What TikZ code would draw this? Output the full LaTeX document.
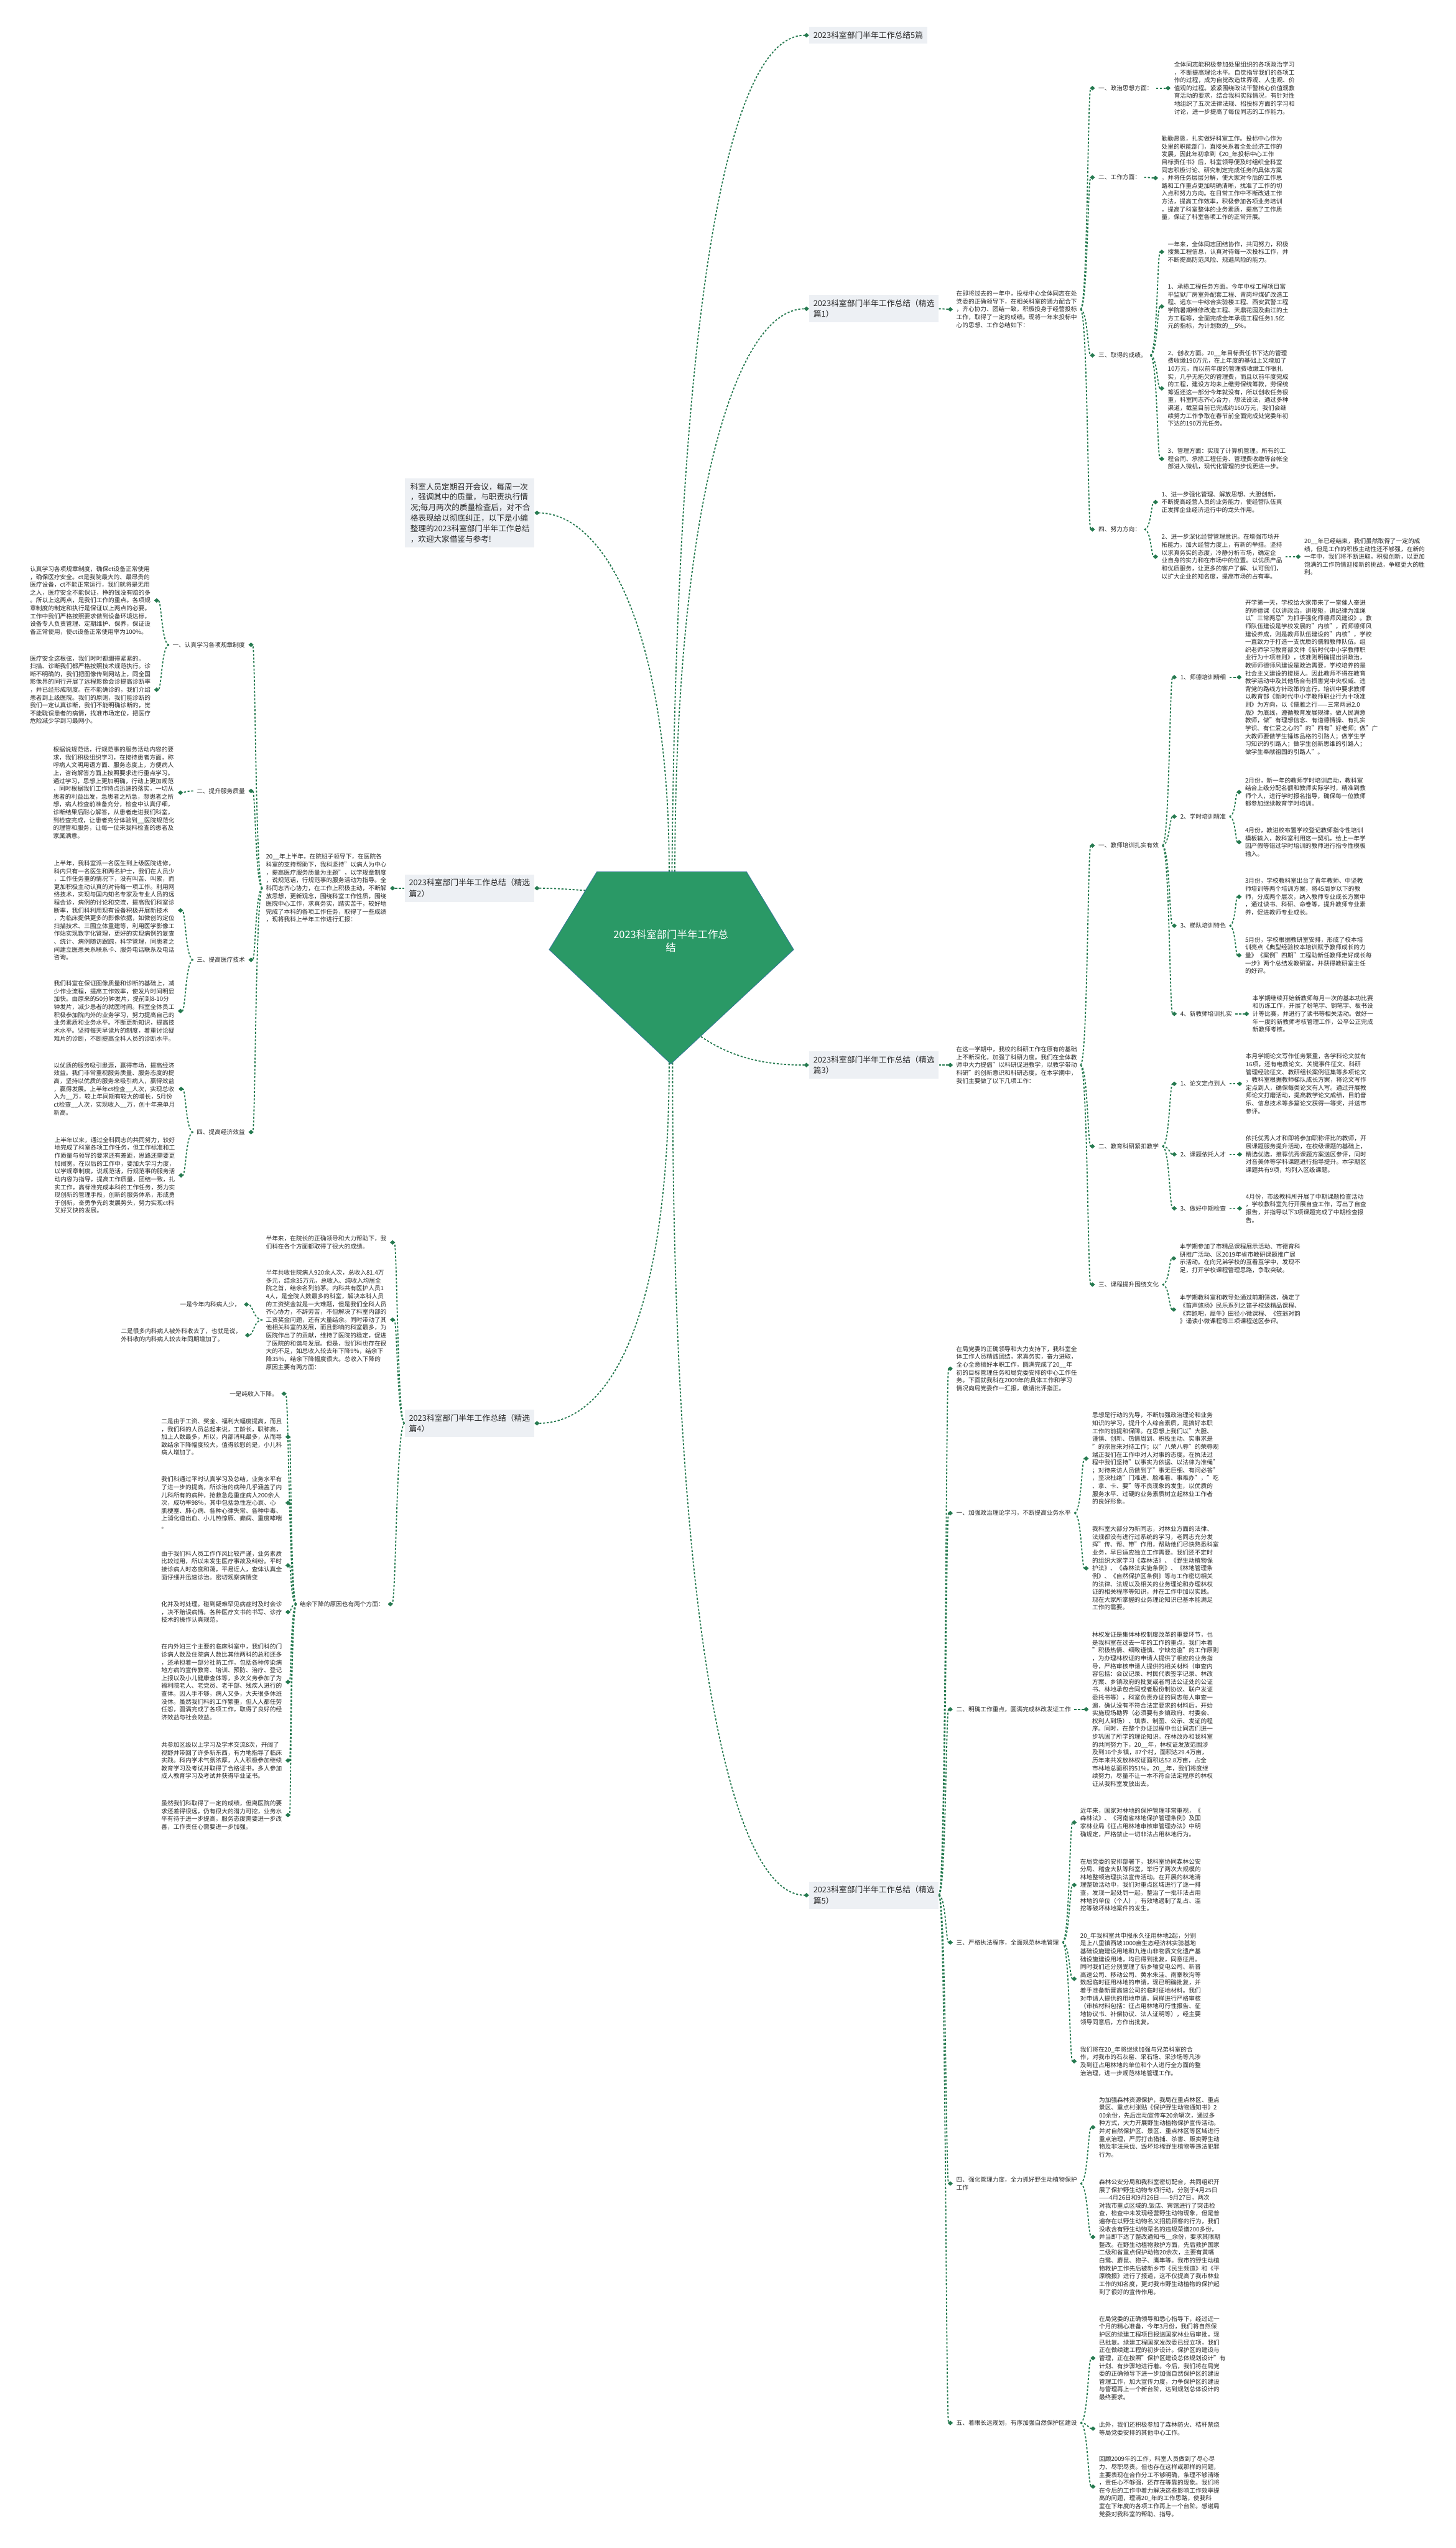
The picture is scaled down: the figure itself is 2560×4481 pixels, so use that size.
\documentclass[tikz,border=0pt]{standalone}
\usepackage{fontspec}
\setmainfont{Noto Sans CJK SC}
\usetikzlibrary{arrows.meta,calc}
\definecolor{lnk}{RGB}{38,122,80}
\definecolor{rootfill}{RGB}{42,153,102}
\definecolor{rootdraw}{RGB}{52,120,150}
\definecolor{boxfill}{RGB}{237,240,244}
\definecolor{txt}{RGB}{40,40,40}
\newcommand\leaffont{\fontsize{10.6pt}{13.8pt}\selectfont}
\newcommand\boxfont{\fontsize{14pt}{19pt}\selectfont}
\newcommand\sumfont{\fontsize{13.8pt}{18.4pt}\selectfont}
\newcommand\rootfont{\fontsize{18pt}{23pt}\selectfont}
\tikzset{
  leaf/.style={font=\leaffont, text=txt, align=left, inner xsep=6pt, inner ysep=2pt},
  pbox/.style={fill=boxfill, text=txt, font=\boxfont, align=left, inner xsep=7.5pt, inner ysep=8pt},
  sumbox/.style={fill=boxfill, text=txt, font=\sumfont, align=left, inner xsep=10pt, inner ysep=8pt},
  conn/.style={draw=lnk, line width=2pt, dash pattern=on 3.5pt off 3pt, -{Turned Square[length=9pt,width=8pt]}},
}
\newcommand\lkR[2]{\draw[conn] let \p1=(#1.east),\p2=(#2.west),\p3=($(\p1)!0.5!(\p2)$) in (\p1) .. controls (\x3,\y1) and (\x3,\y2) .. (\p2);}
\newcommand\lkL[2]{\draw[conn] let \p1=(#1.west),\p2=(#2.east),\p3=($(\p1)!0.5!(\p2)$) in (\p1) .. controls (\x3,\y1) and (\x3,\y2) .. (\p2);}
\begin{document}
\begin{tikzpicture}[x=1pt,y=-1pt]
\fill[white] (0,0) rectangle (2560,4481);
\path[use as bounding box] (0,0) rectangle (2560,4481);

% ---------- root anchors ----------
\coordinate (p5) at (1182,1533);
\coordinate (p1) at (1187,1533);
\coordinate (ps) at (1177,1533);
\coordinate (p2) at (1030,1566);
\coordinate (p3) at (1233,1823);
\coordinate (p4) at (1177,1869);
\coordinate (p6) at (1183,1869);

% ---------- 篇1 ----------
\node[pbox,anchor=west] (T5) at (1423,62) {2023科室部门半年工作总结5篇};
\node[pbox,anchor=west,text width=213pt] (B1) at (1423,543) {2023科室部门半年工作总结（精选\\篇1）};
\node[leaf,anchor=west] (I1) at (1676,544) {在即将过去的一年中，投标中心全体同志在处\\党委的正确领导下，在相关科室的通力配合下\\，齐心协力、团结一致，积极投身于经营投标\\工作，取得了一定的成绩。现将一年来投标中\\心的思想、工作总结如下：};
\node[leaf,anchor=west] (L1a) at (1926,155) {一、政治思想方面：};
\node[leaf,anchor=west] (A1) at (2059,155) {全体同志能积极参加处里组织的各项政治学习\\，不断提高理论水平。自觉指导我们的各项工\\作的过程，成为自觉改造世界观、人生观、价\\值观的过程。紧紧围绕政法干警核心价值观教\\育活动的要求，结合我科实际情况，有针对性\\地组织了五次法律法规、招投标方面的学习和\\讨论，进一步提高了每位同志的工作能力。};
\node[leaf,anchor=west] (L1b) at (1926,312) {二、工作方面：};
\node[leaf,anchor=west] (A2) at (2037,313) {勤勤恳恳，扎实做好科室工作。投标中心作为\\处里的职能部门，直接关系着全处经济工作的\\发展，因此年初拿到《20\_年投标中心工作\\目标责任书》后，科室领导便及时组织全科室\\同志积极讨论、研究制定完成任务的具体方案\\，并将任务层层分解，使大家对今后的工作思\\路和工作重点更加明确清晰，找准了工作的切\\入点和努力方向。在日常工作中不断改进工作\\方法，提高工作效率，积极参加各项业务培训\\，提高了科室整体的业务素质，提高了工作质\\量，保证了科室各项工作的正常开展。};
\node[leaf,anchor=west] (L1c) at (1926,625) {三、取得的成绩。};
\node[leaf,anchor=west] (A3) at (2048,443) {一年来，全体同志团结协作，共同努力，积极\\搜集工程信息，认真对待每一次投标工作，并\\不断提高防范风险、规避风险的能力。};
\node[leaf,anchor=west] (A4) at (2048,539) {1、承揽工程任务方面。今年中标工程项目富\\平监狱厂房室外配套工程、青岗坪煤矿改造工\\程、远东一中综合实验楼工程、西安武警工程\\学院暑期维修改造工程、天鼎花园及曲江的土\\方工程等，全面完成全年承揽工程任务1.5亿\\元的指标，为计划数的\_\_5\%。};
\node[leaf,anchor=west] (A5) at (2048,683) {2、创收方面。20\_\_年目标责任书下达的管理\\费收缴190万元，在上年度的基础上又增加了\\10万元，而以前年度的管理费收缴工作很扎\\实，几乎无拖欠的管理费，而且以前年度完成\\的工程，建设方均未上缴劳保统筹款，劳保统\\筹返还这一部分今年就没有，所以创收任务很\\重，科室同志齐心合力，想法设法，通过多种\\渠道，截至目前已完成约160万元，我们会继\\续努力工作争取在春节前全面完成处党委年初\\下达的190万元任务。};
\node[leaf,anchor=west] (A6) at (2048,807) {3、管理方面：实现了计算机管理。所有的工\\程合同、承揽工程任务、管理费收缴等台帐全\\部进入微机，现代化管理的步伐更进一步。};
\node[leaf,anchor=west] (L1d) at (1926,931) {四、努力方向：};
\node[leaf,anchor=west] (A7) at (2037,883) {1、进一步强化管理、解放思想、大胆创新，\\不断提高经营人员的业务能力，使经营队伍真\\正发挥企业经济运行中的龙头作用。};
\node[leaf,anchor=west] (A8) at (2037,979) {2、进一步深化经营管理意识。在增强市场开\\拓能力，加大经营力度上，有新的举措。坚持\\以求真务实的态度，冷静分析市场，确定企\\业自身的实力和在市场中的位置。以优质产品\\和优质服务，让更多的客户了解、认可我们，\\以扩大企业的知名度，提高市场的占有率。};
\node[leaf,anchor=west] (A9) at (2288,979) {20\_\_年已经结束，我们虽然取得了一定的成\\绩，但是工作的积极主动性还不够强，在新的\\一年中，我们将不断进取，积极创新，以更加\\饱满的工作热情迎接新的挑战，争取更大的胜\\利。};

\lkR{B1}{I1}
\lkR{I1}{L1a}\lkR{I1}{L1b}\lkR{I1}{L1c}\lkR{I1}{L1d}
\lkR{L1a}{A1}\lkR{L1b}{A2}
\lkR{L1c}{A3}\lkR{L1c}{A4}\lkR{L1c}{A5}\lkR{L1c}{A6}
\lkR{L1d}{A7}\lkR{L1d}{A8}\lkR{A8}{A9}

% ---------- 篇3 ----------
\node[pbox,anchor=west,text width=213pt] (B3) at (1423,1873) {2023科室部门半年工作总结（精选\\篇3）};
\node[leaf,anchor=west] (I3) at (1676,1873) {在这一学期中，我校的科研工作在原有的基础\\上不断深化，加强了科研力度。我们在全体教\\师中大力提倡"以科研促进教学，以教学带动\\科研"的创新意识和科研态度。在本学期中，\\我们主要做了以下几项工作：};
\node[leaf,anchor=west] (L3a) at (1926,1487) {一、教师培训扎实有效};
\node[leaf,anchor=west] (L3a1) at (2070,1191) {1、师德培训精细};
\node[leaf,anchor=west] (C1) at (2184,1191) {开学第一天，学校给大家带来了一堂催人奋进\\的师德课《以讲政治，讲规矩，讲纪律为准绳\\以"三常两忌"为抓手强化师德师风建设》。教\\师队伍建设是学校发展的"内核"，而师德师风\\建设养成，则是教师队伍建设的"内核"，学校\\一直致力于打造一支优质的儒雅教师队伍。组\\织老师学习教育部文件《新时代中小学教师职\\业行为十项准则》，该准则明确提出讲政治，\\教师师德师风建设是政治需要，学校培养的是\\社会主义建设的接班人。因此教师不得在教育\\教学活动中及其他场合有损害党中央权威、违\\背党的路线方针政策的言行。培训中要求教师\\以教育部《新时代中小学教师职业行为十项准\\则》为方向，以《儒雅之行——三常两忌2.0\\版》为底线，遵循教育发展规律，做人民满意\\教师，做"有理想信念、有道德情操、有扎实\\学识、有仁爱之心的"的"四有"好老师；做"广\\大教师要做学生锤炼品格的引路人；做学生学\\习知识的引路人；做学生创新思维的引路人；\\做学生奉献祖国的引路人"。};
\node[leaf,anchor=west] (L3a2) at (2070,1436) {2、学时培训精准};
\node[leaf,anchor=west] (C2) at (2184,1393) {2月份，新一年的教师学时培训启动，教科室\\结合上级分配名额和教师实际学时，精准到教\\师个人，进行学时报名指导，确保每一位教师\\都参加继续教育学时培训。};
\node[leaf,anchor=west] (C3) at (2184,1481) {4月份，教进校布置学校登记教师指令性培训\\模板输入，教科室利用这一契机，给上一年学\\因产假等错过学时培训的教师进行指令性模板\\输入。};
\node[leaf,anchor=west] (L3a3) at (2070,1628) {3、梯队培训特色};
\node[leaf,anchor=west] (C4) at (2184,1577) {3月份，学校教科室出台了青年教师、中坚教\\师培训等两个培训方案，将45周岁以下的教\\师，分成两个层次，纳入教师专业成长方案中\\，通过读书、科研、命卷等，提升教师专业素\\养，促进教师专业成长。};
\node[leaf,anchor=west] (C5) at (2184,1680) {5月份，学校根据教研室安排，形成了校本培\\训亮点《典型经验校本培训赋予教师成长的力\\量》《案例"四期"工程助新任教师走好成长每\\一步》两个总结发教研室，并获得教研室主任\\的好评。};
\node[leaf,anchor=west] (L3a4) at (2070,1783) {4、新教师培训扎实};
\node[leaf,anchor=west] (C6) at (2197,1783) {本学期继续开始新教师每月一次的基本功比赛\\和历练工作，开展了粉笔字、钢笔字、板书设\\计等比赛，并进行了读书等相关活动。做好一\\年一度的新教师考核管理工作，公平公正完成\\新教师考核。};
\node[leaf,anchor=west] (L3b) at (1926,2016) {二、教育科研紧扣教学};
\node[leaf,anchor=west] (L3b1) at (2070,1906) {1、论文定点到人};
\node[leaf,anchor=west] (C7) at (2185,1906) {本月学期论文写作任务繁重，各学科论文就有\\16项，还有电教论文、关键事件征文、科研\\管理经验征文、教研组长案例征集等多项论文\\，教科室根据教师梯队成长方案，将论文写作\\定点到人，确保每类论文有人写。通过开展教\\师论文打磨活动，提高教学论文成绩，目前音\\乐、信息技术等多篇论文获得一等奖，并送市\\参评。};
\node[leaf,anchor=west] (L3b2) at (2070,2030) {2、课题依托人才};
\node[leaf,anchor=west] (C8) at (2185,2030) {依托优秀人才和即将参加职称评比的教师，开\\展课题服务提升活动，在校级课题的基础上，\\精选优选，推荐优秀课题方案送区参评，同时\\对音美体等学科课题进行指导提升。本学期区\\课题共有9项，均列入区级课题。};
\node[leaf,anchor=west] (L3b3) at (2070,2125) {3、做好中期检查};
\node[leaf,anchor=west] (C9) at (2185,2125) {4月份，市级教科所开展了中期课题检查活动\\，学校教科室先行开展自查工作，写出了自查\\报告，并指导以下3项课题完成了中期检查报\\告。};
\node[leaf,anchor=west] (L3c) at (1926,2259) {三、课程提升围绕文化};
\node[leaf,anchor=west] (C10) at (2069,2213) {本学期参加了市精品课程展示活动、市德育科\\研推广活动、区2019年省市教研课题推广展\\示活动。在向兄弟学校的互看互学中，发现不\\足，打开学校课程管理思路，争取突破。};
\node[leaf,anchor=west] (C11) at (2069,2303) {本学期教科室和教导处通过前期筛选，确定了\\《笛声悠扬》民乐系列之笛子校级精品课程、\\《奔跑吧，犀牛》田径小微课程、《笠翁对韵\\》诵读小微课程等三项课程送区参评。};

\lkR{B3}{I3}
\lkR{I3}{L3a}\lkR{I3}{L3b}\lkR{I3}{L3c}
\lkR{L3a}{L3a1}\lkR{L3a}{L3a2}\lkR{L3a}{L3a3}\lkR{L3a}{L3a4}
\lkR{L3a1}{C1}\lkR{L3a2}{C2}\lkR{L3a2}{C3}\lkR{L3a3}{C4}\lkR{L3a3}{C5}\lkR{L3a4}{C6}
\lkR{L3b}{L3b1}\lkR{L3b}{L3b2}\lkR{L3b}{L3b3}
\lkR{L3b1}{C7}\lkR{L3b2}{C8}\lkR{L3b3}{C9}
\lkR{L3c}{C10}\lkR{L3c}{C11}

% ---------- 篇5 ----------
\node[pbox,anchor=west,text width=213pt] (B5) at (1423,3333) {2023科室部门半年工作总结（精选\\篇5）};
\node[leaf,anchor=west] (E0) at (1676,2407) {在局党委的正确领导和大力支持下，我科室全\\体工作人员精诚团结，求真务实，奋力进取，\\全心全意搞好本职工作，圆满完成了20\_\_年\\初的目标管理任务和局党委安排的中心工作任\\务。下面就我科在2009年的具体工作和学习\\情况向局党委作一汇报，敬请批评指正。};
\node[leaf,anchor=west] (L5a) at (1676,2661) {一、加强政治理论学习，不断提高业务水平};
\node[leaf,anchor=west] (E1) at (1915,2565) {思想是行动的先导，不断加强政治理论和业务\\知识的学习，提升个人综合素质，是搞好本职\\工作的前提和保障。在思想上我们以"大胆、\\谨慎、创新、热情周到、积极主动、实事求是\\"的宗旨来对待工作；以"八荣八辱"的荣辱观\\端正我们在工作中对人对事的态度。在执法过\\程中我们坚持"以事实为依据、以法律为准绳"\\；对待来访人员做到了"事无巨细、有问必答"\\，坚决杜绝"门难进、脸难看、事难办"，"吃\\、拿、卡、要"等不良现象的发生，以优质的\\服务水平、过硬的业务素质树立起林业工作者\\的良好形象。};
\node[leaf,anchor=west] (E2) at (1915,2758) {我科室大部分为新同志，对林业方面的法律、\\法规都没有进行过系统的学习，老同志充分发\\挥"传、帮、带"作用，帮助他们尽快熟悉科室\\业务，早日适应独立工作需要。我们还不定时\\的组织大家学习《森林法》、《野生动植物保\\护法》、《森林法实施条例》、《林地管理条\\例》、《自然保护区条例》等与工作密切相关\\的法律、法规以及相关的业务理论和办理林权\\证的相关程序等知识，并在工作中加以实践。\\现在大家所掌握的业务理论知识已基本能满足\\工作的需要。};
\node[leaf,anchor=west] (L5b) at (1676,3006) {二、明确工作重点，圆满完成林改发证工作};
\node[leaf,anchor=west] (E3) at (1915,3006) {林权发证是集体林权制度改革的重要环节，也\\是我科室在过去一年的工作的重点，我们本着\\"积极热情、细致谨慎、宁缺勿滥"的工作原则\\，为办理林权证的申请人提供了相应的业务指\\导，严格审核申请人提供的相关材料（审查内\\容包括：会议记录、村民代表签字记录、林改\\方案、乡镇政府的批复或者司法公证处的公证\\书、林地承包合同或者股份制协议、联户发证\\委托书等），科室负责办证的同志每人审查一\\遍，确认没有不符合法定要求的材料后，开始\\实施现场勘界（必须要有乡镇政府、村委会、\\权利人到场）、填表、制图、公示、发证的程\\序。同时，在整个办证过程中也让同志们进一\\步巩固了所学的理论知识。在林改办和我科室\\的共同努力下，20\_\_年，林权证发放范围涉\\及到16个乡镇，87个村，面积达29.4万亩，\\历年来共发放林权证面积达52.8万亩，占全\\市林地总面积的51\%。20\_\_年，我们将度继\\续努力，尽量不让一本不符合法定程序的林权\\证从我科室发放出去。};
\node[leaf,anchor=west] (L5c) at (1676,3416) {三、严格执法程序，全面规范林地管理};
\node[leaf,anchor=west] (E4) at (1894,3205) {近年来，国家对林地的保护管理非常重视，《\\森林法》、《河南省林地保护管理条例》及国\\家林业局《征占用林地审核审管理办法》中明\\确规定，严格禁止一切非法占用林地行为。};
\node[leaf,anchor=west] (E5) at (1894,3315) {在局党委的安排部署下，我科室协同森林公安\\分局、稽查大队等科室，举行了两次大规模的\\林地整顿治理执法宣传活动。在开展的林地清\\理整顿活动中，我们对重点区域进行了逐一排\\查，发现一起处罚一起，整治了一批非法占用\\林地的单位（个人），有效地遏制了乱占、滥\\挖等破坏林地案件的发生。};
\node[leaf,anchor=west] (E6) at (1894,3480) {20\_年我科室共申报永久征用林地2起，分别\\是上八里镇西坡1000亩生态经济林实验基地\\基础设施建设用地和九连山非物质文化遗产基\\础设施建设用地，均已得到批复，同意征用。\\同时我们还分别受理了新乡输变电公司、新晋\\高速公司、移动公司、黄水朱洼、南寨秋沟等\\数起临时征用林地的申请，现已明确批复，并\\着手准备新晋高速公司的临时征地材料。我们\\对申请人提供的用地申请，同样进行严格审核\\（审核材料包括：征占用林地可行性报告、征\\地协议书、补偿协议、法人证明等），经主要\\领导同意后，方作出批复。};
\node[leaf,anchor=west] (E7) at (1894,3625) {我们将在20\_年将继续加强与兄弟科室的合\\作，对我市的石灰窑、采石场、采沙场等凡涉\\及到征占用林地的单位和个人进行全方面的整\\治治理，进一步规范林地管理工作。};
\node[leaf,anchor=west] (L5d) at (1676,3840) {四、强化管理力度，全力抓好野生动植物保护\\工作};
\node[leaf,anchor=west] (E8) at (1927,3741) {为加强森林资源保护，我局在重点林区、重点\\景区、重点村张贴《保护野生动物通知书》2\\00余份，先后出动宣传车20余辆次，通过多\\种方式，大力开展野生动植物保护宣传活动。\\并对自然保护区、景区、重点林区等区域进行\\重点治理，严厉打击猎捕、杀害、贩卖野生动\\物及非法采伐、毁坏珍稀野生植物等违法犯罪\\行为。};
\node[leaf,anchor=west] (E9) at (1927,3934) {森林公安分局和我科室密切配合，共同组织开\\展了保护野生动物专项行动，分别于4月25日\\——4月26日和9月26日——9月27日，两次\\对我市重点区域的.饭店、宾馆进行了突击检\\查，检查中未发现经营野生动物现象，但是普\\遍存在以野生动物名义招揽顾客的行为，我们\\没收含有野生动物菜名的违规菜谱200多份，\\并当即下达了整改通知书\_\_余份，要求其限期\\整改。在野生动植物救护方面，先后救护国家\\二级和省重点保护动物20余次，主要有黄嘴\\白鹭、麝鼠、狍子、鹰隼等。我市的野生动植\\物救护工作先后被新乡市《民生频道》和《平\\原晚报》进行了报道，这不仅提高了我市林业\\工作的知名度，更对我市野生动植物的保护起\\到了很好的宣传作用。};
\node[leaf,anchor=west] (L5e) at (1676,4261) {五、着眼长远规划，有序加强自然保护区建设};
\node[leaf,anchor=west] (E10) at (1927,4147) {在局党委的正确领导和悉心指导下，经过近一\\个月的精心准备，今年3月份，我们将自然保\\护区的续建工程项目报送国家林业局审批，现\\已批复。续建工程国家发改委已经立项，我们\\正在做续建工程的初步设计。保护区的建设与\\管理，正在按照"保护区建设总体规划设计"有\\计划、有步骤地进行着。今后，我们将在局党\\委的正确领导下进一步加强自然保护区的建设\\管理工作，加大宣传力度，力争保护区的建设\\与管理再上一个新台阶，达到规划总体设计的\\最终要求。};
\node[leaf,anchor=west] (E11) at (1927,4271) {此外，我们还积极参加了森林防火、秸秆禁烧\\等局党委安排的其他中心工作。};
\node[leaf,anchor=west] (E12) at (1927,4373) {回顾2009年的工作，科室人员做到了尽心尽\\力、尽职尽责。但也存在这样或那样的问题，\\主要表现在合作分工不够明确，条理不够清晰\\，责任心不够强，还存在等靠的现象。我们将\\在今后的工作中着力解决这些影响工作效率提\\高的问题，理清20\_年的工作思路，使我科\\室在下年度的各项工作再上一个台阶。感谢局\\党委对我科室的帮助、指导。};

\lkR{B5}{E0}\lkR{B5}{L5a}\lkR{B5}{L5b}\lkR{B5}{L5c}\lkR{B5}{L5d}\lkR{B5}{L5e}
\lkR{L5a}{E1}\lkR{L5a}{E2}\lkR{L5b}{E3}
\lkR{L5c}{E4}\lkR{L5c}{E5}\lkR{L5c}{E6}\lkR{L5c}{E7}
\lkR{L5d}{E8}\lkR{L5d}{E9}
\lkR{L5e}{E10}\lkR{L5e}{E11}\lkR{L5e}{E12}

% ---------- left: summary + 篇2 ----------
\node[sumbox,anchor=east,text width=208pt] (S) at (940,902) {科室人员定期召开会议，每周一次\\，强调其中的质量，与职责执行情\\况;每月两次的质量检查后，对不合\\格表现给以彻底纠正，以下是小编\\整理的2023科室部门半年工作总结\\，欢迎大家借鉴与参考!};
\node[pbox,anchor=east,text width=213pt] (B2) at (940,1562) {2023科室部门半年工作总结（精选\\篇2）};
\node[leaf,anchor=east] (I2) at (686,1562) {20\_\_年上半年，在院班子领导下，在医院各\\科室的支持帮助下，我科坚持"以病人为中心\\，提高医疗服务质量为主题"，以学规章制度\\，说规范话，行规范事的服务活动为指导。全\\科同志齐心协力，在工作上积极主动，不断解\\放思想，更新观念，围绕科室工作性质，围绕\\医院中心工作，求真务实，踏实苦干，较好地\\完成了本科的各项工作任务，取得了一些成绩\\，现将我科上半年工作进行汇报：};
\node[leaf,anchor=east] (L2a) at (437,1134) {一、认真学习各项规章制度};
\node[leaf,anchor=east] (D1) at (271,1056) {认真学习各项规章制度，确保ct设备正常使用\\，确保医疗安全。ct是我院最大的、最昂贵的\\医疗设备，ct不能正常运行，我们就将是无用\\之人，医疗安全不能保证，挣的钱没有赔的多\\。所以上这两点，是我们工作的重点。各项规\\章制度的制定和执行是保证以上两点的必要。\\工作中我们严格按照要求做到设备环境达标，\\设备专人负责管理、定期维护、保养，保证设\\备正常使用，使ct设备正常使用率为100\%。};
\node[leaf,anchor=east] (D2) at (271,1213) {医疗安全这根弦，我们时时都绷得紧紧的。\\扫描、诊断我们都严格按照技术规范执行。诊\\断不明确的，我们把图像传到网站上，同全国\\影像界的同行开展了远程影像会诊提高诊断率\\，并已经形成制度。在不能确诊的，我们介绍\\患者到上级医院。我们的原则，我们能诊断的\\我们一定认真诊断，我们不能明确诊断的，觉\\不能耽误患者的病情，找准市场定位，把医疗\\危险减少学到习最网小。};
\node[leaf,anchor=east] (L2b) at (437,1391) {二、提升服务质量};
\node[leaf,anchor=east] (D3) at (313,1394) {根据说规范话，行规范事的服务活动内容的要\\求，我们积极组织学习，在接待患者方面，称\\呼病人文明用语方面、服务态度上，方便病人\\上，咨询解答方面上按照要求进行重点学习。\\通过学习，思想上更加明确，行动上更加规范\\，同时根据我们工作特点迅速的落实，一切从\\患者的利益出发，急患者之所急，想患者之所\\想，病人检查前准备充分，检查中认真仔细，\\诊断结果后耐心解答，从患者走进我们科室，\\到检查完成，让患者充分体验到\_\_医院规范化\\的理管和服务，让每一位来我科检查的患者及\\家属满意。};
\node[leaf,anchor=east] (L2c) at (437,1688) {三、提高医疗技术};
\node[leaf,anchor=east] (D4) at (313,1601) {上半年，我科室派一名医生到上级医院进修，\\科内只有一名医生和两名护士，我们在人员少\\，工作任务重的情况下，没有叫苦、叫累，而\\更加积极主动认真的对待每一项工作。利用网\\络技术，实现与国内知名专家及专业人员的远\\程会诊，病例的讨论和交流，提高我们科室诊\\断率，我们科利用现有设备积极开展新技术\\，为临床提供更多的影像依据，如微创的定位\\扫描技术、三围立体重建等，利用医学影像工\\作站实现数字化管理，更好的实现病例的复查\\、统计、病例随访跟踪，科学管理，同患者之\\间建立医患关系联系卡、服务电话联系及电话\\咨询。};
\node[leaf,anchor=east] (D5) at (313,1778) {我们科室在保证图像质量和诊断的基础上，减\\少作业流程，提高工作效率，使发片时间明显\\加快。由原来的50分钟发片，提前到8-10分\\钟发片，减少患者的就医时间。科室全体员工\\积极参加院内外的业务学习，努力提高自己的\\业务素质和业务水平。不断更新知识，提高技\\术水平。坚持每天早读片的制度，着重讨论疑\\难片的诊断，不断提高全科人员的诊断水平。};
\node[leaf,anchor=east] (L2d) at (437,1991) {四、提高经济效益};
\node[leaf,anchor=east] (D6) at (314,1915) {以优质的服务吸引患源，赢得市场，提高经济\\效益。我们非常重视服务质量、服务态度的提\\高，坚持以优质的服务来吸引病人，赢得效益\\，赢得发展。上半年ct检查\_\_人次，实现总收\\入为\_\_万，较上年同期有较大的增长，5月份\\ct检查\_\_人次，实现收入\_\_万，创十年来单月\\新高。};
\node[leaf,anchor=east] (D7) at (314,2067) {上半年以来，通过全科同志的共同努力，较好\\地完成了科室各项工作任务，但工作标准和工\\作质量与领导的要求还有差距，思路还需要更\\加阔宽。在以后的工作中，要加大学习力度，\\以学规章制度，说规范话，行规范事的服务活\\动内容为指导，提高工作质量，团结一致，扎\\实工作，高标准完成本科的工作任务，努力实\\现创新的管理手段，创新的服务体系，形成勇\\于创新，奋勇争先的发展势头，努力实现ct科\\又好又快的发展。};

\lkL{B2}{I2}
\lkL{I2}{L2a}\lkL{I2}{L2b}\lkL{I2}{L2c}\lkL{I2}{L2d}
\lkL{L2a}{D1}\lkL{L2a}{D2}\lkL{L2b}{D3}
\lkL{L2c}{D4}\lkL{L2c}{D5}\lkL{L2d}{D6}\lkL{L2d}{D7}

% ---------- 篇4 ----------
\node[pbox,anchor=east,text width=213pt] (B4) at (940,2503) {2023科室部门半年工作总结（精选\\篇4）};
\node[leaf,anchor=east] (F1) at (686,2185) {半年来，在院长的正确领导和大力帮助下，我\\们科在各个方面都取得了很大的成绩。};
\node[leaf,anchor=east] (F2) at (686,2321) {半年共收住院病人920余人次，总收入81.4万\\多元，结余35万元，总收入、纯收入均居全\\院之首，结余名列前茅。内科共有医护人员1\\4人，是全院人数最多的科室，解决本科人员\\的工资奖金就是一大难题，但是我们全科人员\\齐心协力，不辞劳苦，不但解决了科室内部的\\工资奖金问题，还有大量结余。同时带动了其\\他相关科室的发展，而且影响的科室最多，为\\医院作出了的贡献，维持了医院的稳定，促进\\了医院的和谐与发展。但是，我们科也存在很\\大的不足，如总收入较去年下降9\%，结余下\\降35\%，结余下降幅度很大。总收入下降的\\原因主要有两方面：};
\node[leaf,anchor=east] (F1a) at (429,2294) {一是今年内科病人少，};
\node[leaf,anchor=east] (F1b) at (431,2348) {二是很多内科病人被外科收去了，也就是说，\\外科收的内科病人较去年同期增加了。};
\node[leaf,anchor=east] (F3) at (682,2821) {结余下降的原因也有两个方面：};
\node[leaf,anchor=east] (G1) at (495,2451) {一是纯收入下降。};
\node[leaf,anchor=east] (G2) at (502,2527) {二是由于工资、奖金、福利大幅度提高，而且\\，我们科的人员总起来说，工龄长，职称高，\\加上人数最多，所以，内部消耗最多，从而导\\致结余下降幅度较大。值得欣慰的是，小儿科\\病人增加了。};
\node[leaf,anchor=east] (G3) at (502,2643) {我们科通过平时认真学习及总结，业务水平有\\了进一步的提高，所诊治的病种几乎涵盖了内\\儿科所有的病种，抢救急危重症病人200余人\\次，成功率98\%，其中包括急性左心衰、心\\肌梗塞、肺心病、各种心律失常、各种中毒、\\上消化道出血、小儿热惊厥、癫痫、重度哮喘\\。};
\node[leaf,anchor=east] (G4) at (502,2753) {由于我们科人员工作作风比较严谨，业务素质\\比较过用，所以未发生医疗事故及纠纷。平时\\接诊病人时态度和蔼，平易近人，查体认真全\\面仔细并迅速诊治。密切观察病情变};
\node[leaf,anchor=east] (G5) at (502,2835) {化并及时处理。碰到疑难罕见病症时及时会诊\\，决不贻误病情。各种医疗文书的书写、诊疗\\技术的操作认真规范。};
\node[leaf,anchor=east] (G6) at (502,2958) {在内外妇三个主要的临床科室中，我们科的门\\诊病人数及住院病人数比其他两科的总和还多\\，还承担着一部分社防工作，包括各种传染病\\地方病的宣传教育、培训、预防、治疗、登记\\上报以及小儿健康查体等，多次义务参加了为\\福利院老人、老党员、老干部、残疾人进行的\\查体。因人手不够，病人又多，大夫很多休班\\没休。虽然我们科的工作繁重，但人人都任劳\\任怨，圆满完成了各项工作，取得了良好的经\\济效益与社会效益。};
\node[leaf,anchor=east] (G7) at (502,3096) {共参加区级以上学习及学术交流8次，开阔了\\视野并带回了许多新东西，有力地指导了临床\\实践。科内学术气氛浓厚，人人积极参加继续\\教育学习及考试并取得了合格证书。多人参加\\成人教育学习及考试并获得毕业证书。};
\node[leaf,anchor=east] (G8) at (502,3192) {虽然我们科取得了一定的成绩，但离医院的要\\求还差得很远，仍有很大的潜力可挖，业务水\\平有待于进一步提高，服务态度需要进一步改\\善，工作责任心需要进一步加强。};

\lkL{B4}{F1}\lkL{B4}{F2}\lkL{B4}{F3}
\lkL{F2}{F1a}\lkL{F2}{F1b}
\lkL{F3}{G1}\lkL{F3}{G2}\lkL{F3}{G3}\lkL{F3}{G4}\lkL{F3}{G5}\lkL{F3}{G6}\lkL{F3}{G7}\lkL{F3}{G8}

% ---------- root connectors ----------
\draw[conn] (p5) .. controls (1190,600) and (1270,62) .. (T5.west);
\draw[conn] (p1) .. controls (1188,900) and (1290,543) .. (B1.west);
\draw[conn] (ps) .. controls (1177,1100) and (1060,902) .. (S.east);
\draw[conn] (p2) .. controls (1000,1564) and (975,1562) .. (B2.east);
\draw[conn] (p3) .. controls (1290,1862) and (1350,1873) .. (B3.west);
\draw[conn] (p4) .. controls (1177,2300) and (1080,2503) .. (B4.east);
\draw[conn] (p6) .. controls (1183,2900) and (1290,3333) .. (B5.west);

% ---------- root ----------
\filldraw[fill=rootfill, draw=rootdraw, line width=1pt] (1050,1533) -- (1313,1533) -- (1396,1670) -- (1180,1871) -- (966,1670) -- cycle;
\node[font=\rootfont, text=white, align=center] (root) at (1180,1655) {2023科室部门半年工作总\\结};
\end{tikzpicture}
\end{document}
